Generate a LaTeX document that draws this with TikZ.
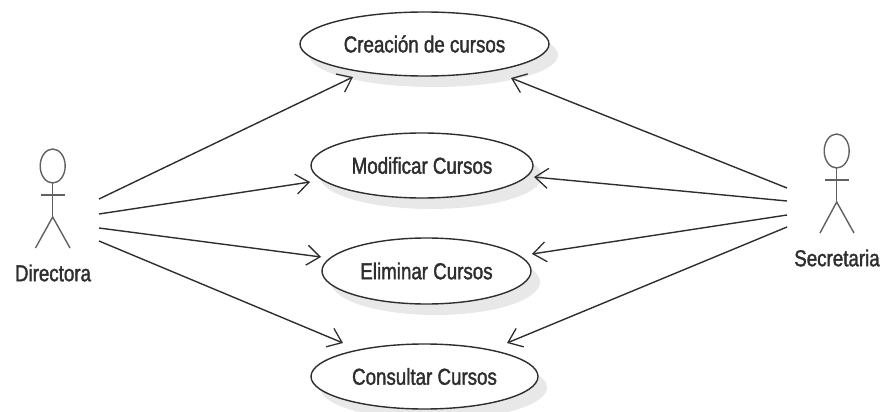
\documentclass[tikz,border=0pt]{standalone}
\usepackage{fontspec}
\setmainfont[FakeStretch=0.815,FakeBold=1.6]{Liberation Sans}
\usetikzlibrary{arrows.meta,shadows,shapes.geometric}
\definecolor{inkc}{HTML}{2E2E2E}
\tikzset{
  usecase/.style={draw=inkc,line width=1.4pt,fill=white,shape=ellipse,inner sep=0pt,
    drop shadow={shadow xshift=9pt,shadow yshift=-11pt,fill=black!9,opacity=1},
    font=\fontsize{23}{26}\selectfont,text=inkc},
  assoc/.style={draw=inkc,line width=1.4pt,-{Straight Barb[length=13pt,width=20pt,line width=1.3pt]}},
  actorline/.style={draw=black!62,line width=1.4pt},
  actorname/.style={font=\fontsize{23}{26}\selectfont,text=inkc,inner sep=0pt},
}
\begin{document}
\begin{tikzpicture}[x=1pt,y=-1pt]
\useasboundingbox (0,0) rectangle (883,412);
\node[usecase,minimum width=249pt,minimum height=64pt] (crea) at (424.5,44) {Creación de cursos};
\node[usecase,minimum width=222pt,minimum height=65pt] (modi) at (422,165.5) {Modificar Cursos};
\node[usecase,minimum width=209pt,minimum height=66pt] (elim) at (426.5,271) {Eliminar Cursos};
\node[usecase,minimum width=227pt,minimum height=65pt] (cons) at (424.5,376.5) {Consultar Cursos};
% Directora
\draw[actorline] (52.7,166) circle[x radius=12.5pt,y radius=17pt];
\draw[actorline] (52.7,183) -- (52.7,217);
\draw[actorline] (40.5,195) -- (65,195);
\draw[actorline] (35.5,248) -- (52.7,217) -- (70,248);
\node[actorname] (dir) at (53,273) {Directora};
% Secretaria
\draw[actorline] (836.7,151) circle[x radius=12.5pt,y radius=17pt];
\draw[actorline] (836.7,168) -- (836.7,202);
\draw[actorline] (824.5,180) -- (849,180);
\draw[actorline] (820,233) -- (836.7,202) -- (854,233);
\node[actorname] (sec) at (837,258) {Secretaria};
\coordinate (d1) at (99,199);
\coordinate (d2) at (99,214);
\coordinate (d3) at (99,228);
\coordinate (d4) at (99,241);
\coordinate (s1) at (787,188);
\coordinate (s2) at (787,201);
\coordinate (s3) at (787,215);
\coordinate (s4) at (787,227);
\coordinate (c1) at (353,77);
\coordinate (c2) at (511,78);
\coordinate (m1) at (310,182);
\coordinate (m2) at (534,177);
\coordinate (e1) at (321,257);
\coordinate (e2) at (532,254);
\coordinate (k1) at (343,343);
\coordinate (k2) at (507,343);
\draw[assoc] (d1) -- (c1);
\draw[assoc] (d2) -- (m1);
\draw[assoc] (d3) -- (e1);
\draw[assoc] (d4) -- (k1);
\draw[assoc] (s1) -- (c2);
\draw[assoc] (s2) -- (m2);
\draw[assoc] (s3) -- (e2);
\draw[assoc] (s4) -- (k2);
\end{tikzpicture}
\end{document}
